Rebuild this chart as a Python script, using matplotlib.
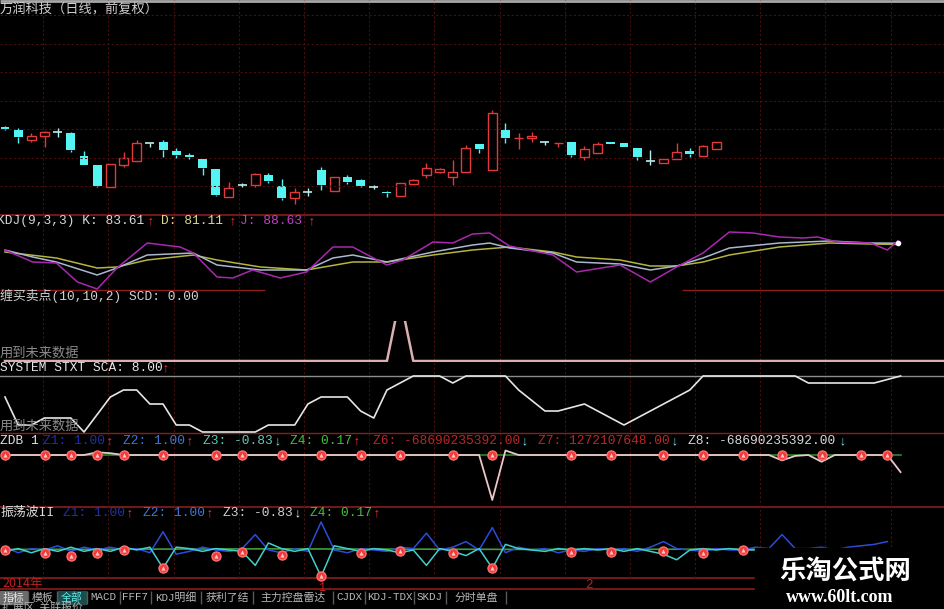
import matplotlib
matplotlib.use("Agg")
import matplotlib.pyplot as plt
from matplotlib.patches import Rectangle
import numpy as np

W, H = 945, 609
BAR_PX = 13.17      # pixel spacing of one bar
X0_PX = 5           # pixel x of bar 0

# ---------------- data ----------------
title = "万润科技（日线，前复权）"

opens  = [28.8, 28.5, 27.5, 27.9, 28.3, 28.2, 25.9, 25.0, 22.8, 25.0,
          25.4, 27.2, 27.3, 26.4, 26.0, 25.6, 24.6, 21.8, 23.0, 23.0,
          24.0, 22.9, 21.7, 22.3, 24.5, 22.4, 23.8, 23.5, 22.8, 22.3,
          21.9, 23.1, 24.0, 24.3, 23.8, 24.3, 27.1, 24.5, 28.5, 27.7,
          27.7, 27.3, 27.2, 27.3, 25.8, 26.2, 27.3, 27.2, 26.7, 25.4,
          25.2, 25.6, 26.4, 25.9, 26.6]
closes = [28.6, 27.8, 27.9, 28.3, 28.3, 26.5, 25.0, 22.9, 25.1, 25.7,
          27.2, 27.2, 26.5, 26.0, 25.8, 24.7, 22.0, 22.7, 23.0, 24.1,
          23.4, 21.7, 22.3, 22.3, 23.0, 23.8, 23.3, 22.9, 22.8, 22.2,
          23.2, 23.5, 24.7, 24.6, 24.3, 26.7, 26.6, 30.2, 27.7, 27.75,
          27.9, 27.3, 27.25, 26.0, 26.6, 27.1, 27.1, 26.8, 25.8, 25.4,
          25.6, 26.3, 26.1, 26.9, 27.3]
highs  = [28.9, 28.7, 28.2, 28.4, 28.7, 28.3, 26.4, 25.0, 25.1, 26.3,
          27.5, 27.2, 27.5, 26.7, 26.2, 25.6, 24.6, 23.3, 23.2, 24.2,
          24.2, 23.6, 22.7, 22.7, 24.8, 23.8, 24.0, 23.6, 23.0, 22.4,
          23.2, 23.6, 25.2, 24.7, 25.5, 27.0, 27.1, 30.5, 29.2, 28.2,
          28.3, 27.4, 27.25, 27.3, 26.9, 27.3, 27.3, 27.2, 26.7, 26.5,
          25.6, 27.2, 26.7, 27.0, 27.3]
lows   = [28.5, 27.2, 27.3, 26.8, 27.8, 26.3, 25.0, 22.8, 22.8, 24.8,
          25.4, 26.8, 25.8, 25.7, 25.6, 24.0, 21.9, 21.8, 22.8, 22.8,
          23.2, 21.5, 21.1, 21.9, 22.5, 22.4, 23.1, 22.8, 22.6, 21.8,
          21.9, 23.1, 23.7, 24.2, 23.0, 24.3, 26.2, 24.5, 27.2, 26.6,
          27.3, 27.0, 26.8, 25.8, 25.5, 26.2, 27.1, 26.8, 25.5, 25.0,
          25.2, 25.6, 25.8, 25.9, 26.6]

# KDJ(9,3,3) — vertices (bar index, value)
j_x = [0, 2.1, 3.9, 5.5, 7.0, 8.5, 10.8, 13.3, 14.3, 16.1, 17.3, 18.8, 20.9, 22.9,
       24.9, 26.4, 29.0, 30.2, 32.5, 34.0, 35.5, 36.8, 38.3, 41.6, 43.4, 46.7, 49.0,
       51.0, 53.0, 55.0, 56.8, 58.8, 60.6, 61.7, 63.2, 65.7, 67.0, 67.8]
j_v = [70, 46, 44, 6, -8, 34, 84, 76, 64, 16, 14, 30, 14, 26,
       76, 76, 40, 50, 86, 84, 102, 104, 78, 60, 26, 40, 6,
       36, 64, 106, 104, 96, 94, 96, 86, 84, 70, 88.63]
k_x = [0, 2.1, 3.9, 7.0, 8.5, 10.8, 14.3, 16.1, 19.4, 22.9, 24.9, 26.4, 29.0, 32.5,
       35.5, 36.8, 38.3, 41.6, 43.4, 46.7, 49.0, 51.0, 53.0, 55.0, 58.8, 62.6, 65.7, 67.8]
k_v = [70, 56, 46, 20, 34, 60, 64, 40, 30, 30, 54, 60, 46, 66,
       80, 84, 74, 64, 46, 42, 30, 38, 54, 74, 84, 88, 84, 83.61]
d_x = [0, 3.9, 7.0, 8.5, 10.8, 14.3, 16.1, 19.4, 22.9, 26.4, 29.0, 32.5, 35.5,
       38.3, 41.6, 43.4, 46.7, 49.0, 51.0, 53.0, 55.0, 58.8, 62.6, 65.7, 67.8]
d_v = [66, 54, 34, 36, 50, 60, 50, 36, 30, 46, 46, 60, 70,
       76, 66, 56, 50, 38, 38, 46, 60, 76, 84, 82, 81.11]

# 缠买卖点 SCD
scd_x = [0, 29, 30, 31, 71.5]
scd_v = [0, 0, 1.6, 0, 0]

# SYSTEM STXT SCA
sca_x = [0, 1, 2, 3, 5, 6, 8, 9, 10, 11, 12, 13, 14, 15, 19, 20, 22, 23, 24, 26,
         27, 28, 29, 30, 31, 33, 34, 35, 36, 38, 39, 41, 42, 44, 45, 47, 49, 50,
         52, 53, 60, 61, 66, 68]
sca_v = [5, 1, 1, 2, 2, 0, 5, 6, 6, 4, 4, 1, 1, 0, 0, 1, 1, 4, 5, 5,
         3, 2, 6, 7, 8, 8, 7, 8, 8, 8, 6, 3, 3, 4, 3, 1, 3, 4,
         6, 8, 8, 7, 7, 8]

# ZDB
zdb_x = [0, 6, 7, 8, 9, 36, 37, 38, 39, 58, 59, 60, 61, 62, 63, 67, 68]
zdb_v = [0, 0, 0.06, 0.04, 0, 0, -1.0, 0.1, 0, 0, -0.12, -0.02, 0, -0.15, 0, 0, -0.38]
signal_idx = [0, 3, 5, 7, 9, 12, 16, 18, 21, 24, 27, 30, 34, 37, 43, 46, 50, 53, 56,
              59, 62, 65, 67]

# 振荡波II
osc_blue = [0.1, -0.1, 0.05, 0, 0.15, -0.05, 0.1, 0, 0.1, 0,
            0.05, -0.1, 0.65, -0.15, -0.05, 0.1, 0, -0.05, 0.05, 0.55,
            0, -0.1, 0.05, -0.05, 1.0, 0, -0.1, 0.05, 0, -0.05,
            0.1, 0.05, 0.6, 0, 0.1, 0.3, 0, 0.8, -0.1, 0.1,
            0, 0.05, -0.1, 0, -0.05, 0.05, 0, 0.05, -0.05, 0.1,
            0.3, 0.05, 0, -0.05, 0.05, 0, 0, 0.1, 0.05, 0.55,
            0.05, 0.05, 0.1, 0, 0.1, 0.15, 0.2, 0.3]
osc_cyan = [-0.05, 0.05, -0.1, 0.05, -0.05, 0.1, -0.05, 0.05, -0.05, 0.1,
            0, 0.1, -0.65, 0.1, 0.05, -0.05, 0.05, 0, -0.05, -0.55,
            0.25, 0.05, -0.05, 0.05, -0.95, 0.15, 0.05, -0.05, 0.05, 0,
            -0.1, 0, -0.55, 0.05, -0.05, -0.2, 0.05, -0.65, 0.2, 0.05,
            0, -0.05, 0.05, 0, 0.05, 0, 0.05, -0.05, 0.05, -0.05,
            -0.15, -0.35, 0, 0.05, 0, 0.05, 0, 0]
osc_green_x = [0, 20, 40, 57]
osc_green_v = [0.02, 0.04, 0.02, 0.03]
osc_mark_x = [0, 3, 5, 7, 9, 12, 16, 18, 21, 24, 27, 30, 34, 37, 43, 46, 50, 53, 56]
osc_mark_v = [0, -0.1, -0.2, -0.1, 0, -0.65, -0.2, -0.07, -0.18, -0.93, -0.1, -0.04,
              -0.1, -0.65, -0.07, -0.07, -0.04, -0.1, 0]

tabs = ["指标", "模板", "全部", "MACD", "FFF7", "KDJ明细", "获利了结", "主力控盘雷达",
        "CJDX", "KDJ-TDX", "SKDJ", "分时单盘"]

# ---------------- styling ----------------
RED = '#e03a3a'
CYAN = '#54f4f4'
GRID = '#4a0e0e'
SEP = '#8a1c1c'
MONO = ['Liberation Mono', 'Noto Sans CJK SC']
CJK = ['Noto Sans CJK SC', 'DejaVu Sans']

fig = plt.figure(figsize=(W / 100, H / 100), dpi=100, facecolor='black')


def panel(top, bottom, ylim, z=1):
    ax = fig.add_axes([0, 1 - bottom / H, 1, (bottom - top) / H], zorder=z)
    ax.set_xlim(-X0_PX / BAR_PX, (W - X0_PX) / BAR_PX)
    ax.set_ylim(*ylim)
    ax.axis('off')
    return ax


def label(x, y, s, color, size=9.3, family=MONO, **kw):
    fig.text(x / W, 1 - y / H, s, color=color, fontsize=size, family=family,
             va='center', ha='left', **kw)


# background: grid and separators in pixel space
bg = fig.add_axes([0, 0, 1, 1], zorder=0)
bg.set_xlim(0, W)
bg.set_ylim(H, 0)
bg.axis('off')

grid_ax = panel(0, 578, (0, 1), z=0.5)
for gx in np.arange(2.9, 70, 4.95):
    grid_ax.axvline(gx, color=GRID, lw=0.8, ls=(0, (2, 2)))

bg.hlines(1, 0, W, color='#a8a8a8', lw=2)
bg.hlines(215, 0, W, color=SEP, lw=1.2)
bg.hlines(290, 0, 265, color=SEP, lw=1)
bg.hlines(290, 682, W, color=SEP, lw=1)
bg.hlines(433, 0, W, color=SEP, lw=1)
bg.hlines(507, 0, W, color=SEP, lw=1.2)
bg.hlines([578, 589], 0, 755, color=SEP, lw=1.2)

# ---------------- main candle panel ----------------
ax = panel(0, 215, (20, 41.5), z=1)
for gy in np.linspace(20, 40, 8)[1:]:
    ax.axhline(gy, color=GRID, lw=0.8, ls=(0, (2, 2)))
o = np.array(opens)
c = np.array(closes)
hi = np.array(highs)
lo = np.array(lows)
idx = np.arange(len(o))
up = c > o
dn = c < o
for i in idx:
    col = RED if up[i] else (CYAN if dn[i] else '#b8eeee')
    ax.vlines(i, lo[i], min(o[i], c[i]), color=col, lw=1)
    ax.vlines(i, max(o[i], c[i]), hi[i], color=col, lw=1)
    if o[i] == c[i]:
        ax.hlines(o[i], i - 0.34, i + 0.34, color=col, lw=1.2)
ax.bar(idx[up], (c - o)[up], bottom=o[up], width=0.68, facecolor='black',
       edgecolor=RED, lw=1)
ax.bar(idx[dn], (o - c)[dn], bottom=c[dn], width=0.68, color=CYAN, lw=0)

# ---------------- KDJ ----------------
ak = panel(215, 290, (-10, 140), z=1)
ak.plot(d_x, d_v, color='#b4b440', lw=1.1)
ak.plot(k_x, k_v, color='#a8b8d0', lw=1.1)
ak.plot(j_x, j_v, color='#a828b0', lw=1.1)
ak.plot([k_x[-1]], [k_v[-1]], 'o', color='white', ms=3)

# ---------------- SCD ----------------
asd = panel(321, 362, (-0.025, 1.0), z=1)
asd.plot(scd_x, scd_v, color='#dcb0b0', lw=1.8)

# ---------------- SYSTEM ----------------
asy = panel(370, 440, (-1.143, 8.857), z=1)
asy.axhline(8, color='#8c8c8c', lw=1)
asy.plot(sca_x, sca_v, color='#e6e6e6', lw=1.2)

# ---------------- ZDB ----------------
az = panel(447, 507, (-1.156, 0.178), z=1)
az.plot([0, 68], [0, 0], color='#2a8a2a', lw=1.2)
az.plot(zdb_x, zdb_v, color='#ecc8c8', lw=1.3)
az.plot(signal_idx, [0] * len(signal_idx), 'o', color='#f23a3a', ms=6.5,
        mec='#ff7070', clip_on=False)
az.plot(signal_idx, [0] * len(signal_idx), '^', color='#ffc8c8', ms=3,
        mec='none', clip_on=False)

# ---------------- 振荡波II ----------------
ao = panel(520, 578, (-1.0, 1.07), z=1)
ao.plot(osc_green_x, osc_green_v, color='#3ca03c', lw=1.2)
ao.plot(range(len(osc_blue)), osc_blue, color='#2c4cd8', lw=1.1)
ao.plot(range(len(osc_cyan)), osc_cyan, color='#40d0c8', lw=1.1)
ao.plot(osc_mark_x, osc_mark_v, 'o', color='#f23a3a', ms=6.5, mec='#ff7070',
        clip_on=False)
ao.plot(osc_mark_x, osc_mark_v, '^', color='#ffc8c8', ms=3, mec='none',
        clip_on=False)

# ---------------- texts ----------------
label(0, 10, title, '#cfcfcf', size=9.5, family=CJK)

label(-3, 221, "KDJ(9,3,3) K: 83.61", '#d8d8d8')
label(147, 221, "↑", '#ff3030')
label(161, 221, "D: 81.11", '#d8d890')
label(229, 221, "↑", '#ff3030')
label(240, 221, "J: 88.63", '#c040c8')
label(308, 221, "↑", '#ff3030')

label(0, 296, "缠买卖点(10,10,2) SCD: 0.00", '#d0d0d0')
label(0, 353, "用到未来数据", '#8a8a8a', size=9.5, family=CJK)
label(0, 368, "SYSTEM STXT SCA: 8.00", '#e4e4e4')
label(162, 368, "↑", '#ff3030')
label(0, 426, "用到未来数据", '#8a8a8a', size=9.5, family=CJK)

zdb_label = [("ZDB 1", 0, '#e0e0e0'), ("Z1: 1.00", 43, '#2030a8'), ("↑", 106, '#ff3030'),
             ("Z2: 1.00", 123, '#3c78d8'), ("↑", 186, '#ff3030'),
             ("Z3: -0.83", 203, '#60c8b8'), ("↓", 274, '#70e0e8'),
             ("Z4: 0.17", 290, '#40c040'), ("↑", 353, '#ff3030'),
             ("Z6: -68690235392.00", 373, '#b82828'), ("↓", 521, '#70e0e8'),
             ("Z7: 1272107648.00", 538, '#b82828'), ("↓", 671, '#70e0e8'),
             ("Z8: -68690235392.00", 688, '#d8d8d8'), ("↓", 839, '#70e0e8')]
for s, x, col in zdb_label:
    label(x, 441, s, col)

osc_label = [("振荡波II", 0, '#e0e0e0'), ("Z1: 1.00", 63, '#2030a8'), ("↑", 126, '#ff3030'),
             ("Z2: 1.00", 143, '#3c78d8'), ("↑", 206, '#ff3030'),
             ("Z3: -0.83", 223, '#d0d0d0'), ("↓", 294, '#e8e8e8'),
             ("Z4: 0.17", 310, '#40c040'), ("↑", 373, '#ff3030')]
for s, x, col in osc_label:
    label(x, 513, s, col)

label(2, 583, "2014年", '#c02020', size=9, family=CJK)
label(318, 588, "1", '#c02020', size=8.5)
label(585, 585, "2", '#c02020', size=9)

# tab bar
tab_left = [0, 29, 58, 88, 120, 152, 202, 254, 334, 366, 415, 447]
tab_right = [27, 56, 86, 119, 150, 200, 252, 332, 364, 413, 445, 505]
for name, l, r in zip(tabs, tab_left, tab_right):
    fg = '#b8b8b8'
    if name == "指标":
        bg.add_patch(Rectangle((l, 591), r - l, 13, color='#6c6c6c'))
        fg = '#e8e8e8'
    elif name == "全部":
        bg.add_patch(Rectangle((l, 591), r - l, 13, color='#1c4c4c'))
        fg = '#60e8e8'
    bg.vlines(r + 1, 591, 604, color='#5a5a5a', lw=1)
    fig.text((l + r) / 2 / W, 1 - 597.5 / H, name, color=fg, fontsize=7.8,
             family=MONO, ha='center', va='center')
fig.text(2 / W, 1 - 602 / H, "扩展区  关联报价", color='#b0b0b0', fontsize=7.8,
         family=CJK, ha='left', va='top')

# watermark box
fig.add_artist(Rectangle((755 / W, 0), (W - 755) / W, (H - 548) / H,
                         transform=fig.transFigure, color='black', zorder=10))
fig.text(845 / W, 1 - 571 / H, "乐淘公式网", color='white', fontsize=19,
         family=CJK, fontweight='bold', ha='center', va='center', zorder=11)
fig.text(840 / W, 1 - 597 / H, "www.60lt.com", color='white', fontsize=13,
         family=['Liberation Serif'], fontweight='bold', ha='center', va='center',
         zorder=11)

fig.savefig("out.png", dpi=100, facecolor='black')
